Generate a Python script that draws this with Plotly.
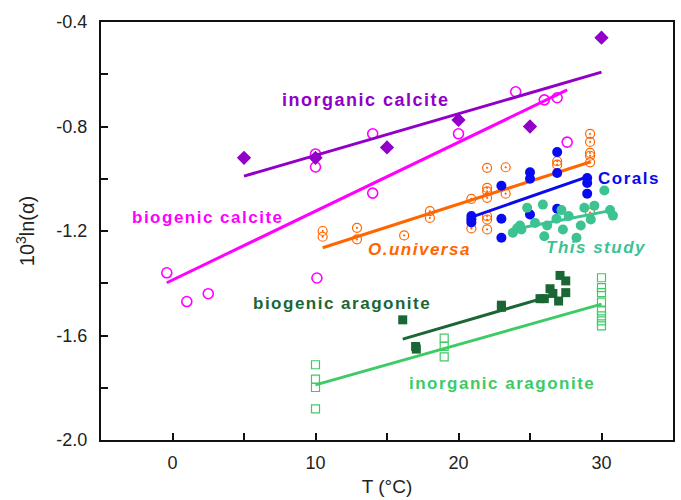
import plotly.graph_objects as go

# ---------------- data ----------------
inorg_calcite_x = [5, 10, 15, 20, 25, 30]
inorg_calcite_y = [-0.92, -0.92, -0.88, -0.775, -0.80, -0.46]
inorg_calcite_fit_x = [5, 30]
inorg_calcite_fit_y = [-0.99, -0.592]

bio_calcite_x = [-0.4, 1.0, 2.5, 10.0, 10.0, 10.1, 14.0, 14.0, 20.0, 24.0, 26.0, 26.9, 27.6]
bio_calcite_y = [-1.36, -1.47, -1.44, -0.905, -0.955, -1.38, -0.828, -1.055, -0.828, -0.667, -0.698, -0.69, -0.86]
bio_calcite_fit_x = [-0.4, 27.6]
bio_calcite_fit_y = [-1.398, -0.66]

ouniversa_x = [10.5, 10.5, 12.9, 12.9, 16.2, 18.0, 18.0, 20.9, 20.9, 22.0, 22.0, 22.0, 22.0,
               22.0, 22.0, 22.0, 23.3, 23.3, 26.9, 26.9, 29.2, 29.2, 29.2, 29.2, 29.2, 29.2]
ouniversa_y = [-1.20, -1.222, -1.188, -1.232, -1.217, -1.124, -1.15, -1.077, -1.19, -0.958, -1.035,
               -1.048, -1.073, -1.143, -1.156, -1.194, -0.956, -1.057, -0.933, -0.946, -0.828,
               -0.859, -0.901, -0.912, -0.937, -1.13]
ouniversa_fit_x = [10.5, 29.2]
ouniversa_fit_y = [-1.264, -0.936]

corals_x = [20.9, 20.9, 20.9, 23.0, 23.0, 23.0, 25.0, 25.0, 25.0, 26.9, 26.9, 26.9, 29.0, 29.0, 29.0]
corals_y = [-1.143, -1.155, -1.167, -1.027, -1.153, -1.226, -0.975, -1.0, -1.137, -0.898, -0.978,
            -1.115, -0.997, -1.016, -1.057]
corals_fit_x = [20.9, 29.0]
corals_fit_y = [-1.147, -0.993]

study_x = [23.8, 24.1, 24.3, 24.4, 24.8, 25.35, 25.9, 26.0, 26.2, 26.85, 27.2, 27.3, 27.7,
           28.25, 28.55, 28.8, 29.25, 29.5, 30.2, 30.6, 30.8]
study_y = [-1.207, -1.19, -1.179, -1.194, -1.111, -1.169, -1.099, -1.22, -1.179, -1.153, -1.12,
           -1.194, -1.143, -1.226, -1.179, -1.111, -1.156, -1.103, -1.045, -1.12, -1.141]
study_fit_x = [23.8, 30.8]
study_fit_y = [-1.194, -1.12]

bio_arag_x = [16.1, 17.0, 17.05, 23.0, 23.0, 25.7, 26.0, 26.4, 26.6, 27.0, 27.1, 27.5, 27.5]
bio_arag_y = [-1.54, -1.642, -1.652, -1.484, -1.492, -1.459, -1.459, -1.421, -1.439, -1.468,
              -1.37, -1.391, -1.436]
bio_arag_fit_x = [16.1, 26.3]
bio_arag_fit_y = [-1.614, -1.451]

inorg_arag_x = [10, 10, 10, 10, 19, 19, 19, 30, 30, 30, 30, 30, 30, 30, 30]
inorg_arag_y = [-1.712, -1.767, -1.799, -1.881, -1.61, -1.642, -1.682, -1.379, -1.417, -1.436,
                -1.472, -1.506, -1.525, -1.544, -1.563]
inorg_arag_fit_x = [10, 30]
inorg_arag_fit_y = [-1.789, -1.48]

x_tickvals = [0, 10, 20, 30]
x_ticktext = ["0", "10", "20", "30"]
y_tickvals = [-2.0, -1.6, -1.2, -0.8, -0.4]
y_ticktext = ["-2.0", "-1.6", "-1.2", "-0.8", "-0.4"]

labels = [
    ("inorganic calcite", 13.52, -0.698, "#9100C8", "normal", 18),
    ("biogenic calcite", 2.51, -1.148, "#FF00FF", "normal", 17),
    ("O.universa", 17.28, -1.271, "#FF6600", "italic", 17),
    ("Corals", 31.9, -1.0, "#0A0AF0", "normal", 17),
    ("This study", 29.6, -1.263, "#3CC391", "italic", 17),
    ("biogenic aragonite", 11.85, -1.477, "#1A6634", "normal", 17),
    ("inorganic aragonite", 23.07, -1.782, "#3CCB64", "normal", 17),
]

# ---------------- figure ----------------
fig = go.Figure()

def fit(x, y, color):
    fig.add_trace(go.Scatter(x=x, y=y, mode="lines", line=dict(color=color, width=3),
                             showlegend=False, hoverinfo="skip"))

def pts(x, y, color, symbol, size, lw=1.5):
    fig.add_trace(go.Scatter(x=x, y=y, mode="markers", showlegend=False,
                             marker=dict(color=color, symbol=symbol, size=size,
                                         line=dict(color=color, width=lw))))

# inorganic aragonite
pts(inorg_arag_x, inorg_arag_y, "#3CCB64", "square-open", 8, 1.2)
fit(inorg_arag_fit_x, inorg_arag_fit_y, "#3CCB64")
# biogenic aragonite
pts(bio_arag_x, bio_arag_y, "#1A6634", "square", 9, 0)
fit(bio_arag_fit_x, bio_arag_fit_y, "#1A6634")
# O. universa
pts(ouniversa_x, ouniversa_y, "#FF6600", "circle-open-dot", 9, 1.2)
fit(ouniversa_fit_x, ouniversa_fit_y, "#FF6600")
# biogenic calcite
pts(bio_calcite_x, bio_calcite_y, "#FF00FF", "circle-open", 10, 1.6)
fit(bio_calcite_fit_x, bio_calcite_fit_y, "#FF00FF")
# inorganic calcite
pts(inorg_calcite_x, inorg_calcite_y, "#9100C8", "diamond", 11, 0)
fit(inorg_calcite_fit_x, inorg_calcite_fit_y, "#9100C8")
# corals
pts(corals_x, corals_y, "#0A0AF0", "circle", 10, 0)
fit(corals_fit_x, corals_fit_y, "#0A0AF0")
# this study
pts(study_x, study_y, "#3CC391", "circle", 10, 0)
fit(study_fit_x, study_fit_y, "#3CC391")

for text, x, y, color, style, size in labels:
    fig.add_annotation(x=x, y=y, xref="x", yref="y", showarrow=False,
                       text='<span style="letter-spacing:1.5px">' + text + '</span>',
                       font=dict(family="Liberation Sans, Arial", size=size, color=color,
                                 weight="bold", style=style),
                       xanchor="center", yanchor="middle")

axis_common = dict(showline=True, linecolor="#111", linewidth=2, mirror=True,
                   ticks="inside", ticklen=7, tickwidth=2, tickcolor="#111",
                   showgrid=False, zeroline=False,
                   tickfont=dict(family="Liberation Sans, Arial", size=18, color="#222"))

fig.update_xaxes(range=[-5, 35], tickmode="array", tickvals=x_tickvals, ticktext=x_ticktext,
                 minor=dict(dtick=5, tick0=0, ticks="inside", ticklen=7, tickwidth=2, tickcolor="#111"),
                 title=dict(text="T (°C)", font=dict(family="Liberation Sans, Arial", size=19, color="#222"),
                            standoff=8),
                 ticklabelstandoff=5, **axis_common)
fig.update_yaxes(range=[-2.0, -0.4], tickmode="array", tickvals=y_tickvals, ticktext=y_ticktext,
                 minor=dict(dtick=0.2, tick0=-2.0, ticks="inside", ticklen=7, tickwidth=2, tickcolor="#111"),
                 title=dict(text="10<sup>3</sup>ln(α)", font=dict(family="Liberation Sans, Arial", size=20, color="#222"),
                            standoff=16),
                 ticklabelstandoff=8, **axis_common)

fig.update_layout(width=681, height=500, margin=dict(l=101, r=6, t=22, b=59),
                  plot_bgcolor="white", paper_bgcolor="white")

fig.write_html("out.html")
